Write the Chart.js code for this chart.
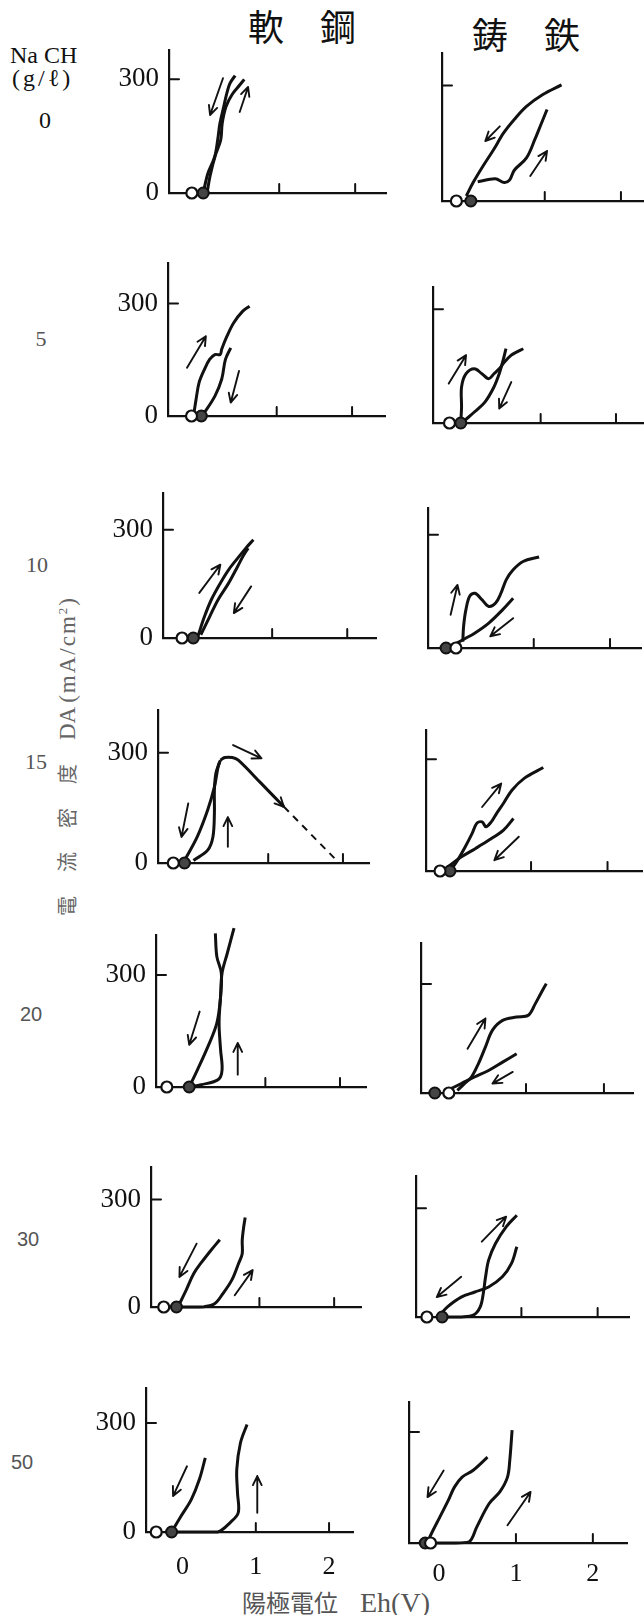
<!DOCTYPE html>
<html lang="ja">
<head>
<meta charset="UTF-8">
<title>軟鋼・鋳鉄の陽極分極曲線</title>
<style>
  html, body { margin: 0; padding: 0; background: #fff; }
  #page { position: relative; width: 644px; height: 1615px; overflow: hidden; background: #fff; color: #111; }
  .lbl { position: absolute; white-space: nowrap; line-height: 1; }
  .serif { font-family: "Liberation Serif", "DejaVu Serif", serif; }
  .sans { font-family: "Liberation Sans", Arial, sans-serif; }
  .cjk { font-family: "Noto Sans CJK JP", sans-serif; }
  .row { width: 40px; text-align: center; color: #555; }
  canvas { position: absolute; }
</style>
<script src="https://cdn.jsdelivr.net/npm/chart.js@4.4.1/dist/chart.umd.min.js"></script>
</head>
<body>
<div id="page">
  <div class="lbl cjk" style="left:248px;top:7px;font-size:36px;">軟　鋼</div>
  <div class="lbl cjk" style="left:472px;top:15px;font-size:36px;">鋳　鉄</div>
  <div class="lbl serif" style="left:10px;top:43px;font-size:24px;">Na CH</div>
  <div class="lbl serif" style="left:12px;top:66px;font-size:24px;letter-spacing:3px;">(g/ℓ)</div>
  <div class="lbl" style="left:67px;top:756px;transform:translate(-50%,-50%) rotate(-90deg);color:#666;">
    <span class="cjk" style="font-size:20px;letter-spacing:24px;">電流密度</span><span class="serif" style="font-size:23px;">DA</span>
    <span class="serif" style="font-size:23px;letter-spacing:2px;">(mA/cm<sup style="font-size:13px;">2</sup>)</span>
  </div>
  <div class="lbl" style="left:242px;top:1589px;color:#555;">
    <span class="cjk" style="font-size:24px;">陽極電位</span><span class="serif" style="font-size:28px;margin-left:22px;">Eh(V)</span>
  </div>
</div>

<script>
// NaOH concentration of each row (g/l)
const concentrations = ['0', '5', '10', '15', '20', '30', '50'];
const xTickValues = [0, 1, 2];        // Eh (V)
const yTickValues = [0, 300];         // DA (mA/cm2)

// curves as [Eh (V), DA (mA/cm2)]; arrows as [x1, y1, x2, y2]; rest = [open circle Eh, filled circle Eh]
// --- 軟鋼 (mild steel)
const steel0A = [[0, 0], [0.06, 51], [0.15, 95], [0.19, 140], [0.22, 184], [0.27, 228], [0.31, 263], [0.35, 289], [0.42, 310]];
const steel0B = [[0.05, 0], [0.09, 45], [0.16, 100], [0.23, 140], [0.25, 184], [0.3, 228], [0.38, 260], [0.48, 285], [0.54, 300]];
const steel0Arrows = [[0.26, 303, 0.09, 206], [0.48, 214, 0.59, 280]];
const steel0Rest = [-0.15, 0.0];

const steel5A = [[-0.1, 5], [-0.07, 44], [-0.03, 89], [0.04, 124], [0.11, 151], [0.18, 164], [0.25, 164], [0.27, 178], [0.34, 213], [0.43, 249], [0.55, 280], [0.64, 293]];
const steel5B = [[0.39, 182], [0.32, 151], [0.27, 98], [0.18, 53], [0.04, 9], [0.0, 0]];
const steel5Arrows = [[-0.19, 129, 0.06, 213], [0.5, 120, 0.39, 36]];
const steel5Rest = [-0.13, 0.0];

const steel10A = [[0.01, 4], [0.1, 60], [0.19, 106], [0.31, 152], [0.42, 189], [0.56, 226], [0.65, 249], [0.75, 272]];
const steel10B = [[0.05, 9], [0.17, 60], [0.28, 106], [0.42, 152], [0.54, 198], [0.61, 226], [0.68, 249]];
const steel10Arrows = [[0.03, 125, 0.31, 203], [0.72, 143, 0.49, 69]];
const steel10Rest = [-0.2, -0.05];

const steel15A = [[0.36, 280], [0.33, 262], [0.28, 207], [0.19, 144], [0.05, 71], [-0.12, 7]];
const steel15B = [[0.0, 7], [0.19, 35], [0.26, 71], [0.28, 135], [0.28, 198], [0.3, 244], [0.35, 275]];
const steel15C = [[0.36, 280], [0.42, 287], [0.52, 287], [0.6, 280], [0.9, 218], [1.21, 153]];
const steel15Dash = [[1.21, 153], [1.95, 0]];
const steel15Arrows = [[0.53, 321, 0.91, 285], [-0.07, 162, -0.16, 71], [0.46, 44, 0.46, 125], [1.0, 197, 1.21, 153]];
const steel15Rest = [-0.27, -0.12];

const steel20A = [[-0.02, 0], [0.14, 6], [0.37, 20], [0.42, 46], [0.4, 100], [0.38, 171], [0.4, 242], [0.42, 305], [0.49, 358], [0.58, 425]];
const steel20B = [[0.33, 411], [0.35, 349], [0.41, 305], [0.4, 242], [0.35, 171], [0.23, 108], [0.09, 46], [-0.02, 0]];
const steel20Arrows = [[0.12, 202, -0.02, 113], [0.63, 33, 0.63, 118]];
const steel20Rest = [-0.32, -0.02];

const steel30A = [[0.47, 188], [0.35, 158], [0.23, 126], [0.12, 93], [0.02, 47], [-0.09, 0]];
const steel30B = [[-0.09, 0], [0.07, 0], [0.26, 1], [0.4, 9], [0.51, 37], [0.63, 75], [0.72, 121], [0.77, 149], [0.77, 186], [0.79, 224], [0.81, 250]];
const steel30Arrows = [[0.16, 177, -0.07, 84], [0.67, 33, 0.91, 103]];
const steel30Rest = [-0.28, -0.11];

const steel50A = [[0.31, 204], [0.23, 145], [0.12, 90], [-0.02, 44], [-0.13, 7]];
const steel50B = [[-0.13, 0], [0.15, 0], [0.48, 0], [0.65, 26], [0.76, 53], [0.75, 108], [0.74, 172], [0.79, 245], [0.88, 296]];
const steel50Arrows = [[0.06, 181, -0.13, 99], [1.02, 53, 1.02, 154]];
const steel50Rest = [-0.36, -0.15];

// --- 鋳鉄 (cast iron)
const iron0A = [[1.22, 302], [0.975, 277], [0.76, 246], [0.6, 212], [0.46, 177], [0.33, 134], [0.19, 91], [0.06, 48], [-0.03, 13]];
const iron0B = [[0.12, 50], [0.35, 58], [0.47, 48], [0.54, 55], [0.6, 80], [0.76, 112], [0.87, 160], [0.95, 199], [1.03, 238]];
const iron0Arrows = [[0.41, 194, 0.22, 156], [0.81, 65, 1.03, 130]];
const iron0Rest = [-0.16, 0.03];

const iron5A = [[-0.06, 3], [-0.05, 42], [-0.05, 95], [0.01, 130], [0.12, 143], [0.22, 130], [0.31, 117], [0.38, 130], [0.45, 143], [0.52, 161], [0.61, 179], [0.68, 187], [0.77, 196]];
const iron5B = [[0.54, 196], [0.49, 157], [0.45, 130], [0.38, 95], [0.26, 55], [0.12, 29], [0.0, 8]];
const iron5Arrows = [[-0.22, 104, 0.01, 179], [0.61, 108, 0.45, 38]];
const iron5Rest = [-0.21, -0.06];

const iron10A = [[0.07, 17], [0.08, 57], [0.11, 101], [0.16, 137], [0.23, 145], [0.32, 128], [0.41, 110], [0.5, 119], [0.57, 145], [0.64, 181], [0.73, 207], [0.86, 229], [1.07, 241]];
const iron10B = [[0.73, 132], [0.59, 101], [0.41, 66], [0.23, 40], [0.07, 22], [-0.05, 8]];
const iron10Arrows = [[-0.09, 88, 0.0, 167], [0.73, 79, 0.43, 31]];
const iron10Rest = [-0.02, -0.15];

const iron15A = [[-0.05, 2], [0.04, 29], [0.14, 65], [0.23, 101], [0.29, 128], [0.36, 132], [0.41, 119], [0.48, 132], [0.55, 155], [0.64, 182], [0.75, 217], [0.91, 249], [1.16, 278]];
const iron15B = [[0.77, 141], [0.64, 110], [0.45, 83], [0.27, 60], [0.09, 38], [-0.09, 11]];
const iron15Arrows = [[0.36, 172, 0.61, 235], [0.84, 92, 0.52, 29]];
const iron15Rest = [-0.19, -0.06];

const iron20A = [[0.12, 7], [0.21, 26], [0.3, 44], [0.39, 81], [0.48, 127], [0.57, 173], [0.7, 200], [0.88, 209], [1.03, 214], [1.12, 246], [1.19, 274], [1.26, 301]];
const iron20B = [[0.88, 108], [0.7, 85], [0.52, 62], [0.34, 44], [0.17, 26], [-0.01, 7]];
const iron20Arrows = [[0.25, 122, 0.48, 205], [0.83, 58, 0.57, 26]];
const iron20Rest = [0.01, -0.17];

const iron30A = [[0.03, 0], [0.21, 0], [0.37, 5], [0.46, 28], [0.5, 65], [0.53, 111], [0.57, 157], [0.66, 203], [0.8, 249], [0.94, 281]];
const iron30B = [[0.94, 194], [0.87, 148], [0.75, 111], [0.57, 83], [0.39, 69], [0.21, 55], [0.03, 28], [-0.07, 5]];
const iron30Arrows = [[0.48, 208, 0.8, 277], [0.21, 111, -0.11, 55]];
const iron30Rest = [-0.24, -0.04];

const iron50A = [[0.63, 232], [0.44, 196], [0.3, 178], [0.2, 151], [0.12, 115], [0.01, 70], [-0.1, 25], [-0.15, 3]];
const iron50B = [[-0.15, 0], [0.17, 0], [0.39, 3], [0.49, 43], [0.65, 106], [0.79, 138], [0.89, 178], [0.92, 224], [0.95, 305]];
const iron50Arrows = [[0.06, 196, -0.15, 124], [0.89, 48, 1.19, 138]];
const iron50Rest = [-0.11, -0.18];

const panels = [
  { curves: [steel0A, steel0B], arrows: steel0Arrows, rest: steel0Rest },
  { curves: [iron0A, iron0B], arrows: iron0Arrows, rest: iron0Rest },
  { curves: [steel5A, steel5B], arrows: steel5Arrows, rest: steel5Rest },
  { curves: [iron5A, iron5B], arrows: iron5Arrows, rest: iron5Rest },
  { curves: [steel10A, steel10B], arrows: steel10Arrows, rest: steel10Rest },
  { curves: [iron10A, iron10B], arrows: iron10Arrows, rest: iron10Rest },
  { curves: [steel15A, steel15B, steel15C], dashed: [steel15Dash], arrows: steel15Arrows, rest: steel15Rest },
  { curves: [iron15A, iron15B], arrows: iron15Arrows, rest: iron15Rest },
  { curves: [steel20A, steel20B], arrows: steel20Arrows, rest: steel20Rest },
  { curves: [iron20A, iron20B], arrows: iron20Arrows, rest: iron20Rest },
  { curves: [steel30A, steel30B], arrows: steel30Arrows, rest: steel30Rest },
  { curves: [iron30A, iron30B], arrows: iron30Arrows, rest: iron30Rest },
  { curves: [steel50A, steel50B], arrows: steel50Arrows, rest: steel50Rest },
  { curves: [iron50A, iron50B], arrows: iron50Arrows, rest: iron50Rest }
];

// layout of each small plot on the page:
// [y-axis x, x of 0 V, px per volt, x-axis end x, x-axis y, y-axis top y, px per 300 mA/cm2]
const frames = [
  [169.2, 203.4, 75.9, 386, 192.7, 50, 113.4],
  [441.5, 468, 76, 643, 201.7, 53.3, 115.7],
  [167.7, 201, 75.3, 384.5, 416.7, 263.3, 112.7],
  [433.1, 465.4, 75.3, 643, 422.7, 286.7, 113.7],
  [162.5, 196.6, 75.2, 375.8, 638.3, 493.3, 108.3],
  [427.9, 457.4, 76.3, 641, 648.3, 508.3, 113.3],
  [158.3, 193.7, 74.6, 368.9, 862.7, 710, 110],
  [425.5, 454, 76.3, 641, 870.7, 730, 111.4],
  [155.5, 190.2, 74.6, 365.4, 1087.3, 935, 112.3],
  [421, 448, 77.8, 632.6, 1092.7, 942.7, 109],
  [151.4, 185, 74.6, 361, 1306.7, 1166.7, 107.4],
  [415.8, 445, 76.3, 629, 1316.7, 1176, 108.4],
  [145.8, 182.3, 73.1, 352.4, 1532.7, 1388.3, 109.3],
  [408.6, 438.6, 76.8, 626.3, 1542.7, 1401.7, 111]
];
const rowLabelPos = [[45, 121, 'serif', 24, '#111'], [41, 340, 'serif', 22], [37, 566, 'serif', 22], [36, 763, 'serif', 22],
                     [31, 1015, 'sans', 20], [28, 1240, 'sans', 20], [22, 1463, 'sans', 20]];

const page = document.getElementById('page');
concentrations.forEach((c, i) => {
  const [cx, cy, fam, size, color] = rowLabelPos[i];
  const d = document.createElement('div');
  d.className = 'lbl row ' + fam;
  d.textContent = c;
  d.style.left = (cx - 20) + 'px';
  d.style.top = (cy - size * 0.55) + 'px';
  d.style.fontSize = size + 'px';
  if (color) d.style.color = color;
  page.appendChild(d);
});

const INK = '#111';
// room kept round each plot: the y scale box takes PL, the x scale box takes PB
const PL = 70, PT = 30, PR = 14, PB = 60;

function decor(arrows) {
  return {
    id: 'decor',
    afterDatasetsDraw(chart) {
      const { ctx, scales: { x, y } } = chart;
      ctx.save();
      ctx.strokeStyle = INK;
      ctx.lineCap = 'round';
      ctx.lineJoin = 'round';
      // inward tick marks at 1 V, 2 V and 300 mA/cm2
      ctx.lineWidth = 2;
      ctx.beginPath();
      xTickValues.filter(v => v > 0).forEach(v => {
        const px = x.getPixelForValue(v);
        ctx.moveTo(px, y.bottom);
        ctx.lineTo(px, y.bottom - 9);
      });
      const py = y.getPixelForValue(yTickValues[1]);
      ctx.moveTo(x.left, py);
      ctx.lineTo(x.left + 10, py);
      ctx.stroke();
      // sweep direction arrows
      ctx.lineWidth = 1.9;
      arrows.forEach(([x1, y1, x2, y2]) => {
        const ax = x.getPixelForValue(x1), ay = y.getPixelForValue(y1);
        const bx = x.getPixelForValue(x2), by = y.getPixelForValue(y2);
        const a = Math.atan2(by - ay, bx - ax);
        ctx.beginPath();
        ctx.moveTo(ax, ay);
        ctx.lineTo(bx, by);
        ctx.moveTo(bx - 10 * Math.cos(a - 0.45), by - 10 * Math.sin(a - 0.45));
        ctx.lineTo(bx, by);
        ctx.lineTo(bx - 10 * Math.cos(a + 0.45), by - 10 * Math.sin(a + 0.45));
        ctx.stroke();
      });
      ctx.restore();
    }
  };
}

const pts = arr => arr.map(([x, y]) => ({ x, y }));

panels.forEach((p, i) => {
  const [axisX, zeroX, pxV, endX, axisY, topY, px300] = frames[i];
  const isLeft = i % 2 === 0;
  const isBottom = i >= panels.length - 2;
  const xMin = (axisX - zeroX) / pxV;
  const xMax = (endX - zeroX) / pxV;
  const yMax = (axisY - topY) / (px300 / 300);

  const cv = document.createElement('canvas');
  cv.width = Math.round(endX - axisX + PL + PR);
  cv.height = Math.round(axisY - topY + PT + PB);
  cv.style.left = (axisX - PL) + 'px';
  cv.style.top = (topY - PT) + 'px';
  page.appendChild(cv);

  const datasets = [
    { data: [{ x: p.rest[0], y: 0 }], pointRadius: 5.5, pointBackgroundColor: '#fff', pointBorderColor: INK, pointBorderWidth: 2.2, showLine: false, clip: false },
    { data: [{ x: p.rest[1], y: 0 }], pointRadius: 5.5, pointBackgroundColor: '#444', pointBorderColor: INK, pointBorderWidth: 2, showLine: false, clip: false }
  ];
  p.curves.forEach(c => datasets.push({
    data: pts(c), showLine: true, borderColor: INK, borderWidth: 3, pointRadius: 0, tension: 0.35, clip: false
  }));
  (p.dashed || []).forEach(c => datasets.push({
    data: pts(c), showLine: true, borderColor: INK, borderWidth: 2, borderDash: [7, 6], pointRadius: 0, clip: false
  }));

  new Chart(cv, {
    type: 'scatter',
    data: { datasets },
    options: {
      responsive: false,
      animation: false,
      devicePixelRatio: 1,
      events: [],
      layout: { padding: { left: 0, top: PT, right: PR, bottom: 0 } },
      plugins: { legend: { display: false }, tooltip: { enabled: false } },
      scales: {
        x: {
          type: 'linear', min: xMin, max: xMax,
          afterBuildTicks: s => { s.ticks = xTickValues.map(v => ({ value: v })); },
          afterFit: s => { s.height = PB; },
          grid: { display: false, drawTicks: false },
          border: { display: true, color: INK, width: 2.2 },
          ticks: { display: isBottom, autoSkip: false, maxRotation: 0, color: INK, padding: isLeft ? 20 : 16,
                   font: { family: 'Liberation Serif', size: 26 } }
        },
        y: {
          type: 'linear', min: 0, max: yMax,
          afterBuildTicks: s => { s.ticks = yTickValues.map(v => ({ value: v })); },
          afterFit: s => { s.width = PL; },
          grid: { display: false, drawTicks: false },
          border: { display: true, color: INK, width: 2.2 },
          ticks: { display: isLeft, autoSkip: false, color: INK, padding: 10,
                   font: { family: 'Liberation Serif', size: 27 } }
        }
      }
    },
    plugins: [decor(p.arrows)]
  });
});
</script>
</body>
</html>
